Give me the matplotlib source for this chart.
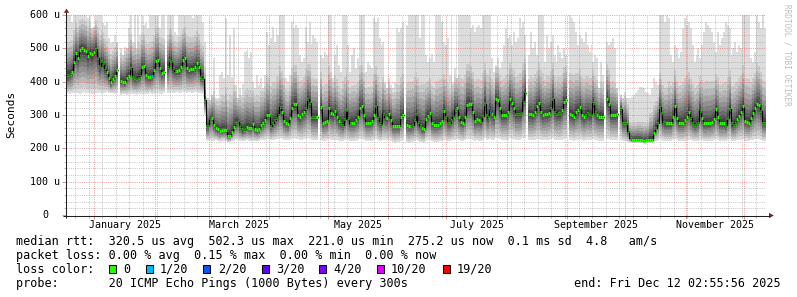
import numpy as np
import matplotlib
matplotlib.use("Agg")
import matplotlib.pyplot as plt
from matplotlib.patches import Polygon, Rectangle
from matplotlib.ticker import MultipleLocator, FixedLocator
from datetime import datetime, timedelta

nan = np.nan

# ---------------- data ----------------
END = datetime(2025, 12, 12, 2, 55, 56)
SPAN_DAYS = 360
START = END - timedelta(days=SPAN_DAYS)

# daily median rtt (microseconds)
median_us = [
    419, 419, 422, 430, 460, 485, 472, 495, 500, 496,
    493, 478, 486, 483, 490, 497, 470, 446, 462, 455,
    442, 430, 412, 398, 408, 418, 435, nan, 402, 400,
    398, 412, 418, 440, 415, 410, 409, 412, 418, 443,
    446, 420, 414, 413, 418, 435, 462, 465, 440, 427,
    429, nan, 443, 465, 463, 440, 433, 432, 435, 443,
    465, 470, 440, 435, 437, 439, 443, 455, 445, 415,
    409, 345, 266, 266, 285, 292, 270, 260, 257, 251,
    254, 254, 254, 236, 236, 250, 265, 275, 280, 263,
    257, 254, 256, 264, 262, 260, 273, 258, 254, 257,
    270, 275, 285, 299, 299, 268, 276, 284, 292, 300,
    324, 309, 282, 276, 273, 290, 320, 334, 334, 300,
    293, 302, 309, 320, 347, 335, 293, 293, 293, 293,
    nan, 324, 277, 280, 282, 322, 305, 302, 312, 295,
    282, 275, 271, 287, 314, 290, 277, 277, 277, 285,
    293, 322, 327, 300, 277, 277, 277, 282, 300, 327,
    290, 277, 271, 302, 295, 290, 302, 285, 267, 267,
    267, 267, 293, 300, nan, 270, 268, 267, 271, 285,
    302, 280, 271, 260, 258, 287, 298, 307, 275, 271,
    271, 271, 276, 282, 312, 295, 277, 277, 285, 293,
    315, 322, 293, 280, 277, 293, 330, 332, 332, 310,
    282, 287, 284, 282, 298, 334, 300, 293, 312, 302,
    295, 347, 345, 320, 299, 299, 299, 310, 347, 335,
    320, 302, 302, 302, 307, 338, 365, nan, 302, 302,
    299, 310, 327, 335, 310, 299, 302, 304, 307, 320,
    347, 310, 302, 305, 305, 315, 340, 345, nan, 302,
    300, 295, 309, 315, 324, 300, 293, 300, 305, 302,
    299, 335, 310, 299, 295, 295, 295, nan, 347, 332,
    299, 299, 299, 302, nan, 317, 277, 276, 275, 251,
    230, 226, 226, 226, 226, 225, 224, 221, 225, 226,
    226, 226, 245, 262, 277, 324, 305, 280, 275, 275,
    275, 275, 293, 327, 290, 277, 277, 277, 285, 295,
    309, 290, 277, 271, 274, 277, 312, 290, 275, 275,
    276, 276, 280, 287, 317, 295, 275, 275, 275, 271,
    290, 317, 275, 271, 275, 287, 298, 310, 327, 282,
    280, 277, 290, 307, 320, 334, 329, 312, 277, 277,
]

# daily fastest ping (bottom edge of the smoke)
ping_min_us = [
    368, 366, 364, 365, 366, 367, 365, 364, 366, 368,
    367, 365, 366, 364, 363, 365, 366, 367, 364, 365,
    366, 368, 367, 366, 365, 364, 366, nan, 360, 362,
    363, 361, 362, 364, 363, 362, 361, 363, 364, 362,
    363, 362, 364, 365, 363, 364, 366, 365, 364, 363,
    365, nan, 366, 367, 368, 366, 367, 368, 367, 366,
    368, 369, 367, 368, 366, 367, 369, 368, 367, 366,
    364, 300, 224, 222, 225, 223, 222, 224, 221, 220,
    222, 223, 221, 218, 219, 221, 223, 224, 225, 222,
    221, 222, 223, 224, 222, 221, 223, 222, 221, 223,
    224, 225, 226, 228, 227, 224, 225, 226, 227, 228,
    230, 228, 226, 225, 224, 226, 229, 230, 229, 227,
    226, 225, 227, 228, 230, 229, 226, 225, 224, 224,
    nan, 226, 222, 223, 224, 227, 225, 224, 226, 225,
    223, 222, 221, 224, 226, 224, 222, 221, 222, 223,
    224, 227, 228, 225, 222, 221, 222, 223, 225, 228,
    224, 222, 221, 226, 225, 224, 226, 223, 218, 217,
    218, 218, 222, 224, nan, 218, 217, 218, 219, 222,
    225, 221, 219, 218, 217, 222, 224, 226, 221, 219,
    219, 220, 221, 222, 226, 224, 221, 221, 222, 224,
    226, 227, 224, 222, 221, 224, 228, 229, 229, 226,
    223, 224, 223, 222, 225, 230, 226, 224, 227, 225,
    224, 230, 230, 227, 225, 225, 225, 226, 230, 229,
    227, 226, 226, 226, 227, 230, 232, nan, 225, 225,
    224, 226, 228, 229, 226, 224, 225, 225, 226, 228,
    230, 226, 225, 225, 225, 226, 229, 230, nan, 225,
    224, 223, 225, 226, 227, 224, 223, 224, 225, 224,
    224, 228, 226, 224, 223, 223, 223, nan, 229, 228,
    224, 224, 224, 225, nan, 226, 222, 222, 221, 219,
    218, 217, 217, 217, 217, 217, 216, 215, 216, 217,
    217, 217, 219, 221, 222, 228, 226, 223, 222, 222,
    222, 222, 224, 228, 224, 222, 222, 222, 223, 224,
    226, 224, 222, 221, 222, 222, 226, 224, 222, 222,
    222, 222, 223, 224, 227, 224, 222, 222, 222, 221,
    224, 227, 222, 221, 222, 224, 225, 226, 228, 223,
    223, 222, 224, 226, 227, 228, 228, 226, 222, 222,
]

# daily slowest ping (top of the light smoke spikes; >600 is clipped)
ping_max_us = [
    540, 610, 610, 580, 610, 610, 610, 610, 600, 610,
    610, 590, 610, 560, 565, 610, 610, 600, 610, 575,
    570, 580, 530, 515, 520, 540, 520, nan, 500, 480,
    505, 500, 560, 610, 520, 610, 500, 610, 540, 610,
    570, 575, 560, 610, 600, 610, 610, 610, 560, 610,
    600, nan, 610, 610, 610, 600, 550, 540, 610, 610,
    610, 610, 600, 610, 610, 590, 610, 610, 610, 600,
    580, 520, 355, 350, 345, 360, 470, 350, 350, 420,
    430, 410, 590, 420, 540, 415, 560, 390, 350, 380,
    360, 392, 490, 495, 470, 490, 400, 380, 420, 390,
    410, 380, 420, 550, 510, 530, 565, 520, 560, 540,
    610, 600, 610, 410, 400, 420, 580, 560, 570, 560,
    480, 460, 470, 563, 520, 580, 513, 540, 530, 520,
    nan, 480, 470, 490, 480, 610, 600, 410, 480, 510,
    450, 430, 610, 600, 610, 510, 430, 480, 500, 440,
    470, 610, 610, 600, 430, 460, 450, 440, 590, 580,
    590, 530, 510, 520, 400, 380, 410, 390, 380, 400,
    560, 550, 560, 575, nan, 570, 610, 610, 600, 610,
    610, 610, 530, 600, 610, 480, 460, 470, 483, 460,
    610, 600, 610, 580, 520, 510, 530, 420, 610, 400,
    440, 410, 610, 610, 610, 600, 610, 610, 560, 570,
    550, 565, 570, 560, 610, 610, 600, 610, 610, 470,
    430, 450, 470, 440, 460, 510, 560, 530, 540, 510,
    550, 520, 530, 590, 560, 580, 540, nan, 480, 550,
    500, 520, 480, 610, 610, 600, 460, 540, 500, 520,
    540, 480, 460, 510, 490, 470, 500, 480, nan, 600,
    590, 580, 550, 510, 540, 530, 520, 550, 510, 490,
    510, 460, 480, 470, 380, 460, 420, nan, 520, 510,
    520, 530, 500, 380, nan, 360, 350, 370, 350, 350,
    350, 355, 360, 365, 375, 385, 385, 380, 370, 365,
    360, 380, 410, 400, 390, 610, 600, 610, 580, 600,
    590, 480, 460, 510, 500, 470, 490, 560, 590, 570,
    580, 560, 510, 460, 480, 500, 470, 510, 550, 580,
    570, 560, 550, 520, 490, 550, 510, 530, 550, 580,
    570, 560, 480, 500, 520, 490, 510, 500, 600, 610,
    600, 610, 470, 460, 490, 600, 580, 560, 600, 560,
]

# height of the medium smoke above the median, per 10-day block
upper_spread_us = [85, 85, 80, 90, 90, 85, 85, 85, 95, 95,
                   95, 95, 95, 95, 95, 95, 95, 95, 95, 95,
                   95, 95, 95, 95, 95, 95, 95, 95, 80, 35,
                   70, 95, 95, 95, 95, 95]

# days whose median was measured with 1/20 loss
loss_1of20_days = [44, 218]

y_ticks = [0, 100, 200, 300, 400, 500, 600]
y_tick_labels = ["0", "100 u", "200 u", "300 u", "400 u", "500 u", "600 u"]
month_label_names = ["January 2025", "March 2025", "May 2025",
                     "July 2025", "September 2025", "November 2025"]
month_label_months = [1, 3, 5, 7, 9, 11]

loss_names = ["0", "1/20", "2/20", "3/20", "4/20", "10/20", "19/20"]
loss_colors = ["#26ff00", "#00b8ff", "#0059ff", "#5e00ff", "#7e00ff", "#dd00ff", "#ff0000"]

legend_rtt = "median rtt:  320.5 us avg  502.3 us max  221.0 us min  275.2 us now  0.1 ms sd  4.8   am/s"
legend_loss = "packet loss: 0.00 % avg  0.15 % max  0.00 % min  0.00 % now"
legend_probe = "probe:       20 ICMP Echo Pings (1000 Bytes) every 300s"
legend_end = "end: Fri Dec 12 02:55:56 2025"

# ---------------- layout ----------------
W, H = 797, 297
L, R, T, B = 65.5, 765.5, 15.0, 215.0
MONO = "DejaVu Sans Mono"

fig = plt.figure(figsize=(W / 100, H / 100), dpi=100, facecolor="white")
ax = fig.add_axes([L / W, 1 - B / H, (R - L) / W, (B - T) / H])
ax.set_facecolor("white")
ax.set_xlim(0, SPAN_DAYS)
ax.set_ylim(0, 600)
for s in ax.spines.values():
    s.set_visible(False)


def dayof(dt):
    return (dt - START).total_seconds() / 86400.0


# ---------------- smoke ----------------
days = np.arange(SPAN_DAYS, dtype=float)
med = np.array(median_us, float)
pmin = np.array(ping_min_us, float)
pmax = np.array(ping_max_us, float)
spread = np.repeat(np.array(upper_spread_us, float), 10)[:SPAN_DAYS]
base19 = med + spread
p19 = base19 + 0.15 * np.clip(pmax - base19, 0, None)
p19 = np.minimum(p19, pmax)

lower_frac = [0.0, 0.12, 0.24, 0.36, 0.48, 0.60, 0.70, 0.80, 0.88, 0.95]
upper_frac = [0.05, 0.12, 0.20, 0.30, 0.41, 0.53, 0.66, 0.82, 1.0]
pings = [pmin + (med - pmin) * f for f in lower_frac] + \
        [med + (p19 - med) * f for f in upper_frac] + [pmax]

xs = np.column_stack([days, days + 1]).ravel()


def st(v):
    return np.repeat(v, 2)


for k in range(19):
    ibot = min(k + 1, 19 - k)
    g = int(190 / 10 * (10 - ibot)) + 50
    col = "#%02x%02x%02x" % (g, g, g)
    ax.fill_between(xs, st(pings[k]), st(pings[k + 1]), color=col,
                    lw=0, antialiased=False, zorder=1)

# ---------------- grid ----------------
ax.set_axisbelow(False)
ax.yaxis.set_major_locator(FixedLocator(y_ticks))
ax.yaxis.set_minor_locator(MultipleLocator(20))
months = [datetime(2025, m, 1) for m in range(1, 13)]
ax.xaxis.set_major_locator(FixedLocator([dayof(m) for m in months]))
first_sun = datetime(2024, 12, 22)
weeks = [first_sun + timedelta(days=7 * i) for i in range(52)]
ax.xaxis.set_minor_locator(FixedLocator([dayof(w) for w in weeks if dayof(w) < SPAN_DAYS]))

dot = (0, (1, 1.2))
ax.grid(True, which="minor", color="#8f8f8f", alpha=0.5, linestyle=dot, lw=0.72)
ax.grid(True, which="major", color="#de5050", alpha=0.55, linestyle=dot, lw=0.72)
ax.tick_params(axis="both", which="both", labelleft=False, labelbottom=False, direction="out")
ax.tick_params(axis="x", which="major", length=3, width=0.72, color="#e49090")
ax.tick_params(axis="x", which="minor", length=2, width=0.72, color="#b8b8b8")
ax.tick_params(axis="y", which="major", length=3, width=0.72, color="#e49090")
ax.tick_params(axis="y", which="minor", length=1.5, width=0.72, color="#b8b8b8")

# ---------------- median line ----------------
ax.plot(xs, st(med), color="black", lw=0.75, zorder=3, solid_joinstyle="miter")
valid = ~np.isnan(med)
seg_cols = [loss_colors[1] if int(d) in loss_1of20_days else loss_colors[0] for d in days[valid]]
ax.hlines(med[valid], days[valid] + 0.06, days[valid] + 0.94, colors=seg_cols, lw=2.3,
          zorder=4, capstyle="butt")

# ---------------- axis labels ----------------
for name, m in zip(month_label_names, month_label_months):
    a = dayof(datetime(2025, m, 1))
    b = dayof(datetime(2025, m + 1, 1))
    ax.text((a + b) / 2, -(224.7 - B) / (B - T), name, transform=ax.get_xaxis_transform(),
            ha="center", va="center", family=MONO, fontsize=7.2, color="black")

ov = fig.add_axes([0, 0, 1, 1], zorder=5)
ov.set_xlim(0, W)
ov.set_ylim(H, 0)
ov.axis("off")

for v, lab in zip(y_ticks, y_tick_labels):
    yp = B - v / 600 * (B - T)
    if lab == "0":
        ov.text(45.0, yp, lab, ha="center", va="center", family=MONO, fontsize=7.2)
    else:
        ov.text(59.6, yp, lab, ha="right", va="center", family=MONO, fontsize=7.2)

ov.text(10.8, 114, "Seconds", rotation=90, ha="center", va="center", family=MONO, fontsize=8.0)
ov.text(787.5, 4.5, "RRDTOOL / TOBI OETIKER", rotation=270, ha="center", va="top",
        family=MONO, fontsize=5.6, color="#bdbdbd")

# axes lines and arrows
ov.plot([66.5, 66.5], [218, 12], color="#1f1f1f", lw=0.75, solid_capstyle="butt")
ov.plot([63, 770], [215.5, 215.5], color="#1f1f1f", lw=0.75, solid_capstyle="butt")
ov.add_patch(Polygon([[63.8, 12.8], [69.2, 12.8], [66.5, 8.6]], closed=True,
                     color="#801f1f", lw=0))
ov.add_patch(Polygon([[769.0, 212.8], [769.0, 218.2], [773.8, 215.5]], closed=True,
                     color="#801f1f", lw=0))

# ---------------- legend ----------------
fs = 8.5
ov.text(16, 241.4, legend_rtt, ha="left", va="center", family=MONO, fontsize=fs)
ov.text(16, 255.3, legend_loss, ha="left", va="center", family=MONO, fontsize=fs)
ov.text(16, 269.2, "loss color:", ha="left", va="center", family=MONO, fontsize=fs)
box_x = [108.7, 145.7, 203.3, 261.7, 319.3, 376.7, 442.7]
for bx, name, col in zip(box_x, loss_names, loss_colors):
    ov.add_patch(Rectangle((bx, 265.2), 7, 7.6, facecolor=col, edgecolor="black", lw=0.75))
    ov.text(bx + 14.4, 269.2, name, ha="left", va="center", family=MONO, fontsize=fs)
ov.text(16, 283.2, legend_probe, ha="left", va="center", family=MONO, fontsize=fs)
ov.text(781, 283.2, legend_end, ha="right", va="center", family=MONO, fontsize=fs)

fig.savefig("out.png", dpi=100, facecolor="white")
